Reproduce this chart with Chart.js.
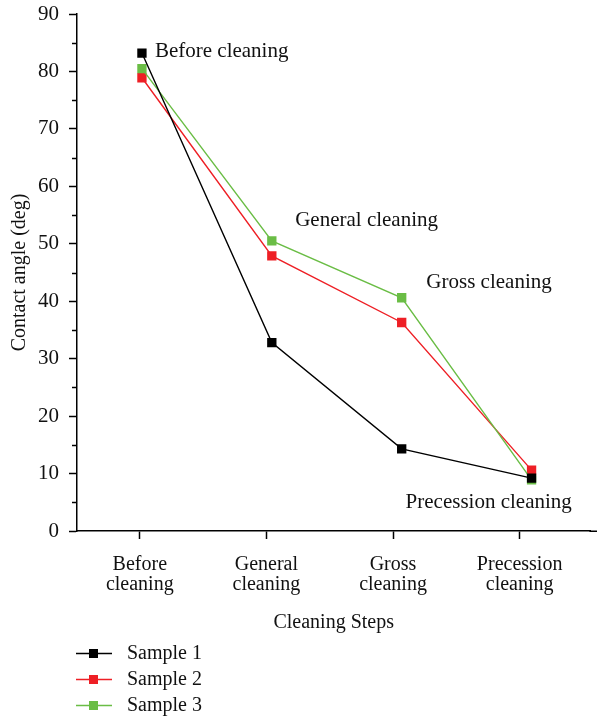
<!DOCTYPE html>
<html>
<head>
<meta charset="utf-8">
<script src="https://cdn.jsdelivr.net/npm/chart.js@4.4.0/dist/chart.umd.min.js"></script>
<style>
  html, body { margin: 0; padding: 0; background: #fff; }
  #wrap { width: 597px; height: 718px; position: relative; }
</style>
</head>
<body>
<div id="wrap"><canvas id="c" width="597" height="718"></canvas></div>
<script>
// Contact angle measured after each cleaning step
const categories = [['Before', 'cleaning'], ['General', 'cleaning'], ['Gross', 'cleaning'], ['Precession', 'cleaning']];
const sample1 = [83.2, 32.8, 14.3, 9.2];
const sample2 = [78.9, 47.9, 36.3, 10.6];
const sample3 = [80.5, 50.5, 40.6, 8.9];
const seriesNames = ['Sample 1', 'Sample 2', 'Sample 3'];
const seriesColors = ['#000000', '#ee1f25', '#6abd45'];
const yTicks = [0, 10, 20, 30, 40, 50, 60, 70, 80, 90];

// Step notes written inside the plot, anchored in data units (step index, angle)
const stepNotes = ['Before cleaning', 'General cleaning', 'Gross cleaning', 'Precession cleaning'];
const noteAnchors = [[0.1, 83.4], [1.18, 54.1], [2.19, 43.2], [2.03, 4.9]];

const FONT = "'Liberation Serif', 'DejaVu Serif', serif";

const toPoints = arr => arr.map((v, i) => ({ x: i, y: v }));

// minor ticks at the half steps of the y axis, and the x axis line run out to the edge
const axisExtras = {
  id: 'axisExtras',
  afterDraw(chart) {
    const y = chart.scales.y, x = chart.scales.x, ctx = chart.ctx;
    ctx.save();
    ctx.strokeStyle = '#000';
    ctx.lineWidth = 1.5;
    for (let i = 0; i < yTicks.length - 1; i++) {
      const py = Math.round(y.getPixelForValue((yTicks[i] + yTicks[i + 1]) / 2)) + 0.5;
      ctx.beginPath();
      ctx.moveTo(y.right - 5, py);
      ctx.lineTo(y.right, py);
      ctx.stroke();
    }
    const ay = Math.round(x.top) + 0.25;
    ctx.beginPath();
    ctx.moveTo(x.right - 1, ay);
    ctx.lineTo(chart.width, ay);
    ctx.stroke();
    ctx.restore();
  }
};

const notes = {
  id: 'notes',
  afterDatasetsDraw(chart) {
    const xs = chart.scales.xd, ys = chart.scales.y, ctx = chart.ctx;
    ctx.save();
    ctx.font = '21px ' + FONT;
    ctx.fillStyle = '#111';
    ctx.textAlign = 'left';
    ctx.textBaseline = 'middle';
    stepNotes.forEach((t, i) => {
      ctx.fillText(t, xs.getPixelForValue(noteAnchors[i][0]), ys.getPixelForValue(noteAnchors[i][1]));
    });
    ctx.restore();
  }
};

// stacked legend under the x axis
const stackedLegend = {
  id: 'stackedLegend',
  afterDraw(chart) {
    const ctx = chart.ctx;
    const top = chart.scales.x.bottom + 13;
    ctx.save();
    ctx.font = '20px ' + FONT;
    ctx.textBaseline = 'middle';
    ctx.textAlign = 'left';
    chart.data.datasets.forEach((ds, i) => {
      const cy = top + i * 26;
      ctx.strokeStyle = ds.borderColor;
      ctx.lineWidth = 1.4;
      ctx.beginPath();
      ctx.moveTo(76, cy + 0.5);
      ctx.lineTo(112, cy + 0.5);
      ctx.stroke();
      ctx.fillStyle = ds.pointBackgroundColor;
      ctx.fillRect(89, cy - 4, 9, 9);
      ctx.fillStyle = '#111';
      ctx.fillText(ds.label, 127, cy + 1);
    });
    ctx.restore();
  }
};

const drawOrder = [0, 2, 1];
const datasets = [sample1, sample2, sample3].map((vals, i) => ({
  label: seriesNames[i],
  data: toPoints(vals),
  xAxisID: 'xd',
  yAxisID: 'y',
  borderColor: seriesColors[i],
  backgroundColor: seriesColors[i],
  pointBackgroundColor: seriesColors[i],
  pointBorderColor: seriesColors[i],
  borderWidth: 1.4,
  pointStyle: 'rect',
  pointRadius: 6.6,
  pointBorderWidth: 0,
  tension: 0,
  order: drawOrder[i]
}));

new Chart(document.getElementById('c'), {
  type: 'line',
  data: { datasets },
  plugins: [axisExtras, notes, stackedLegend],
  options: {
    responsive: false,
    animation: false,
    layout: { padding: { top: 14, right: 0, bottom: 78, left: 0 } },
    plugins: { legend: { display: false }, tooltip: { enabled: false } },
    scales: {
      xd: {
        type: 'linear',
        display: false,
        min: -0.5,
        max: 3.453
      },
      x: {
        type: 'linear',
        position: 'bottom',
        min: -0.496,
        max: 3.559,
        afterBuildTicks: s => { s.ticks = categories.map((_, i) => ({ value: i })); },
        afterFit: s => { s.height = 109; s.paddingLeft = 0; s.paddingRight = 0; },
        grid: { drawOnChartArea: false, drawTicks: true, tickLength: 8, tickColor: '#000', tickWidth: 1.5 },
        border: { display: true, color: '#000', width: 1.5 },
        ticks: {
          callback: v => categories[v],
          color: '#111',
          padding: 16,
          maxRotation: 0,
          autoSkip: false,
          font: { family: FONT, size: 20, lineHeight: 0.98 }
        },
        title: {
          display: true,
          text: 'Cleaning Steps',
          color: '#111',
          font: { family: FONT, size: 20, lineHeight: 1.2 },
          padding: { top: 0, bottom: 5 }
        }
      },
      y: {
        type: 'linear',
        position: 'left',
        min: 0,
        max: 90,
        afterBuildTicks: s => { s.ticks = yTicks.map(v => ({ value: v })); },
        afterFit: s => { s.width = 77; s.paddingTop = 0; s.paddingBottom = 0; },
        grid: { drawOnChartArea: false, drawTicks: true, tickLength: 8, tickColor: '#000', tickWidth: 1.5 },
        border: { display: true, color: '#000', width: 1.5 },
        ticks: {
          color: '#111',
          padding: 10,
          font: { family: FONT, size: 21 }
        },
        title: {
          display: true,
          text: 'Contact angle (deg)',
          color: '#111',
          font: { family: FONT, size: 20, lineHeight: 1.2 },
          padding: { top: 8, bottom: 0 }
        }
      }
    }
  }
});
</script>
</body>
</html>
